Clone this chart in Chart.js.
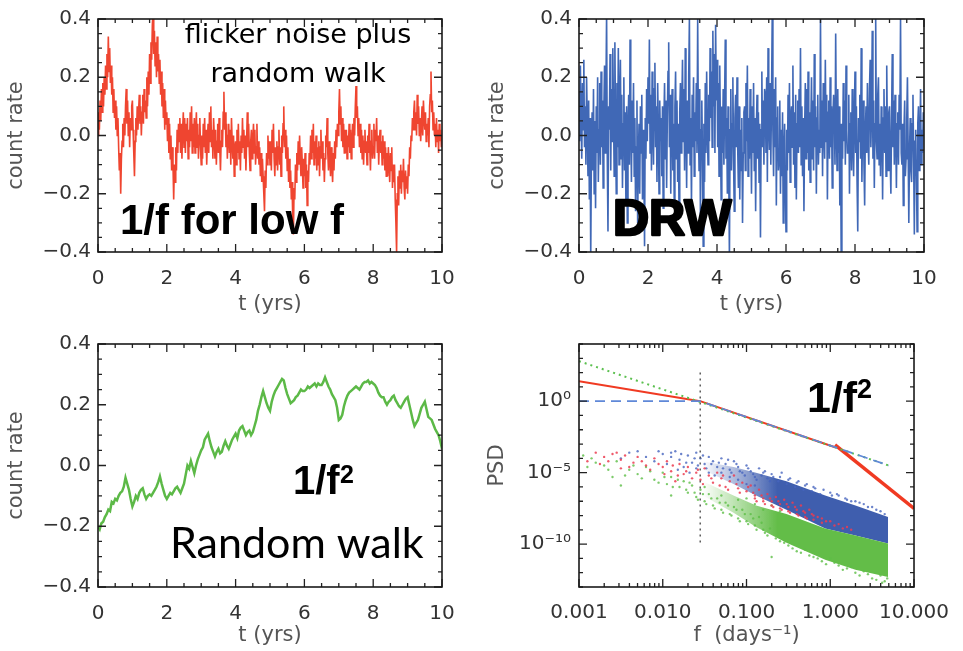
<!DOCTYPE html>
<html><head><meta charset="utf-8">
<script src="https://cdn.jsdelivr.net/npm/chart.js@4/dist/chart.umd.min.js"></script>
<style>
html,body{margin:0;padding:0;background:#fff;}
#wrap{position:relative;width:963px;height:651px;overflow:hidden;background:#fff;}
canvas{position:absolute;}
</style></head><body>
<div id="wrap">
<canvas id="cFlicker" width="481" height="320" style="left:0;top:0;width:481px;height:320px"></canvas>
<canvas id="cDrw" width="482" height="320" style="left:481px;top:0;width:482px;height:320px"></canvas>
<canvas id="cRw" width="481" height="331" style="left:0;top:320px;width:481px;height:331px"></canvas>
<canvas id="cPsd" width="482" height="331" style="left:481px;top:320px;width:482px;height:331px"></canvas>
</div>
<script>
// ---------------- data ----------------
const T_STEP_FAST = 0.02;   // sampling step (yrs) of the two noisy light curves
const T_STEP_RW = 0.05;     // sampling step (yrs) of the random-walk light curve

const FLICKER_RATE = [
0.00,0.08,0.02,0.12,0.05,0.16,0.08,0.18,0.10,0.20,
0.14,0.24,0.16,0.28,0.20,0.34,0.22,0.30,0.18,0.24,
0.14,0.20,0.08,0.16,0.06,0.12,0.02,0.10,0.00,0.06,
-0.04,-0.12,-0.06,-0.20,-0.08,-0.02,0.04,-0.04,0.06,0.00,
0.10,0.16,0.04,0.12,0.00,0.08,-0.04,0.06,0.02,0.10,
0.12,0.02,-0.06,-0.14,-0.02,0.06,0.00,0.10,0.02,0.08,
0.14,0.04,0.10,0.00,0.08,0.14,0.04,0.16,0.08,0.12,
0.06,0.20,0.10,0.22,0.14,0.28,0.18,0.32,0.26,0.38,
0.42,0.28,0.36,0.24,0.32,0.20,0.34,0.22,0.28,0.18,
0.26,0.14,0.22,0.10,0.18,0.06,0.16,0.02,0.12,0.04,
0.08,-0.02,0.06,-0.06,0.04,-0.08,0.00,-0.12,-0.04,-0.10,
-0.22,-0.10,-0.16,-0.04,-0.12,0.02,-0.06,0.04,-0.02,0.06,
-0.06,0.04,-0.08,0.02,0.08,-0.04,0.06,-0.06,0.04,-0.02,
0.06,-0.08,0.02,-0.04,0.08,-0.02,0.10,-0.06,0.04,-0.04,
0.06,-0.06,0.02,0.08,-0.04,0.04,-0.08,0.00,0.06,-0.04,
-0.10,0.00,-0.08,0.04,-0.04,0.06,-0.06,0.02,-0.10,-0.02,
0.04,-0.06,0.08,-0.02,0.10,-0.04,0.02,-0.08,0.06,0.00,
-0.08,0.02,-0.10,-0.02,0.04,-0.06,0.06,-0.04,-0.12,-0.02,
0.02,-0.04,0.08,0.15,0.02,0.08,-0.04,0.04,-0.08,0.00,
0.04,-0.06,0.02,-0.10,0.06,-0.02,-0.08,0.00,-0.14,-0.04,
-0.02,-0.10,0.02,-0.06,0.04,-0.08,-0.02,-0.12,0.00,-0.06,
0.06,-0.04,0.02,-0.08,0.00,-0.12,-0.02,0.08,-0.04,0.04,
-0.06,-0.12,-0.02,0.02,-0.08,-0.02,0.04,-0.06,0.02,-0.10,
-0.04,0.04,-0.08,-0.02,-0.10,-0.04,-0.14,-0.06,-0.16,-0.08,
-0.14,-0.20,-0.26,-0.12,-0.18,-0.06,-0.10,0.00,-0.08,-0.02,
-0.10,-0.02,-0.12,0.02,-0.06,0.04,-0.08,-0.14,-0.04,-0.10,
-0.02,-0.12,-0.04,0.02,-0.10,-0.04,-0.14,0.00,-0.06,0.04,
0.10,-0.04,0.02,-0.08,0.00,-0.12,-0.04,-0.16,-0.08,-0.18,
-0.12,-0.22,-0.16,-0.28,-0.34,-0.18,-0.22,-0.10,-0.16,-0.06,
-0.12,-0.02,-0.10,0.00,-0.08,-0.14,-0.04,-0.10,-0.18,-0.08,
-0.14,-0.06,-0.18,-0.10,-0.24,-0.12,-0.16,-0.06,-0.10,0.00,
-0.08,0.02,-0.06,0.04,-0.10,-0.02,-0.08,0.00,-0.12,-0.04,
-0.10,-0.02,-0.14,-0.04,0.02,-0.08,-0.02,-0.12,-0.06,-0.16,
-0.08,0.00,-0.04,0.06,-0.06,-0.12,-0.02,-0.08,-0.14,-0.04,
-0.10,-0.16,-0.06,-0.12,-0.02,-0.08,0.02,-0.04,0.04,0.00,
0.08,0.16,0.04,0.10,-0.02,0.06,-0.04,0.04,-0.06,0.02,
-0.06,0.02,-0.08,0.00,-0.04,0.04,-0.06,0.02,-0.08,-0.02,
0.04,-0.04,0.06,0.00,0.10,0.17,0.06,0.10,0.00,0.06,
-0.04,0.04,-0.06,0.02,-0.08,0.00,-0.10,-0.02,0.02,-0.06,
-0.02,-0.10,0.00,-0.06,0.04,-0.04,-0.12,-0.02,0.02,-0.08,
-0.04,0.04,-0.08,0.02,-0.02,0.06,-0.06,0.00,-0.10,-0.02,
0.02,-0.06,-0.02,-0.10,0.00,-0.08,-0.02,-0.12,-0.04,-0.14,
-0.06,-0.14,-0.04,-0.10,-0.16,-0.06,-0.12,-0.04,-0.18,-0.10,
-0.16,-0.10,-0.22,-0.30,-0.40,-0.20,-0.14,-0.24,-0.12,-0.18,
-0.10,-0.20,-0.12,-0.16,-0.08,-0.18,-0.22,-0.12,-0.18,-0.14,
-0.20,-0.10,-0.14,-0.04,-0.08,0.00,-0.02,0.06,0.02,0.08,
0.12,0.02,0.08,0.00,0.14,0.04,0.10,0.00,0.06,-0.02,
0.04,0.10,0.00,0.12,0.06,0.02,0.08,-0.02,0.04,0.00,
0.06,-0.04,0.10,0.14,0.22,0.08,0.12,0.02,0.08,0.00,
0.04,-0.04,0.06,-0.02,0.02,-0.06,0.04,-0.02,0.02,-0.04,
0.00
];

const DRW_RATE = [
0.15,-0.02,0.24,0.05,-0.08,0.18,0.02,0.26,-0.04,0.10,
-0.10,0.20,0.04,-0.14,0.12,-0.22,0.06,-0.42,-0.05,0.08,
-0.12,0.16,-0.20,0.05,-0.25,0.10,-0.06,0.20,-0.16,0.02,
0.18,-0.10,0.22,-0.04,0.12,-0.18,0.08,0.24,-0.06,0.14,
0.42,-0.08,-0.33,0.10,0.02,0.28,-0.12,0.16,-0.02,0.30,
0.08,-0.14,0.32,0.02,-0.20,0.18,-0.04,0.30,-0.10,0.12,
0.26,-0.08,0.14,-0.18,0.04,0.20,-0.12,0.08,-0.24,0.10,
-0.30,0.02,0.14,-0.10,0.33,0.04,-0.16,0.12,-0.06,0.18,
-0.14,0.06,-0.26,-0.04,0.12,-0.30,-0.08,0.04,-0.20,0.10,
-0.06,0.14,-0.22,0.02,-0.12,-0.38,0.06,-0.08,0.16,-0.02,
0.20,0.04,0.33,-0.06,0.14,-0.12,0.22,0.02,-0.10,0.16,
0.25,-0.04,0.10,-0.16,0.18,0.02,-0.20,0.12,-0.02,0.06,
-0.14,0.10,-0.25,0.04,0.18,-0.08,0.12,-0.18,0.06,0.22,
0.32,-0.04,0.14,-0.20,0.06,0.16,-0.12,0.04,-0.22,0.10,
0.22,-0.08,0.12,-0.16,0.04,-0.28,0.08,0.18,-0.06,0.10,
0.26,-0.02,0.16,-0.12,0.30,0.02,-0.18,0.12,-0.06,0.20,
0.40,-0.10,0.06,-0.24,0.14,-0.04,0.20,-0.14,0.08,-0.02,
0.18,-0.06,0.40,0.04,-0.12,0.16,-0.30,0.02,0.12,-0.08,
-0.38,0.04,-0.16,0.18,-0.06,0.22,0.02,-0.10,0.14,-0.02,
0.30,0.06,0.22,-0.04,0.36,0.10,0.28,-0.06,0.38,0.12,
0.26,-0.04,0.18,-0.14,0.24,0.02,-0.22,0.10,-0.06,0.16,
-0.10,0.12,0.33,-0.08,0.06,-0.20,0.10,-0.12,-0.42,0.02,
0.16,-0.12,0.04,0.20,-0.08,-0.26,0.06,0.14,-0.04,0.20,
-0.04,-0.18,0.10,-0.22,0.02,-0.12,0.06,-0.30,-0.06,0.08,
0.10,-0.12,0.18,-0.02,0.24,-0.14,0.06,-0.08,0.16,0.02,
-0.20,0.10,-0.06,0.18,-0.12,0.06,-0.26,0.02,0.14,-0.08,
0.08,-0.16,0.04,-0.35,0.02,0.22,-0.04,0.12,-0.10,0.16,
0.14,-0.06,0.20,-0.16,0.30,0.04,-0.05,0.18,-0.10,0.12,
0.40,0.02,-0.14,0.16,-0.04,0.20,-0.24,0.06,0.10,-0.12,
-0.08,0.12,-0.20,0.02,-0.14,0.08,-0.30,-0.06,0.04,-0.18,
-0.33,0.02,-0.12,0.14,-0.06,0.18,-0.16,0.06,0.10,-0.04,
0.24,-0.10,0.08,-0.18,0.14,-0.22,0.04,0.12,-0.06,0.16,
-0.04,0.30,-0.10,0.10,-0.14,0.06,-0.26,0.02,0.18,-0.08,
0.16,-0.06,0.22,-0.12,0.08,-0.16,0.04,0.20,-0.08,0.12,
-0.12,0.28,-0.04,0.10,-0.20,0.06,0.14,-0.10,0.02,-0.06,
0.40,-0.04,0.12,-0.14,0.18,0.02,-0.08,0.26,-0.02,0.14,
-0.22,0.08,0.12,-0.08,0.20,-0.04,0.10,-0.18,0.06,0.14,
0.06,-0.10,0.35,0.02,-0.12,0.16,-0.06,0.10,-0.24,0.04,
-0.42,0.04,-0.08,0.18,-0.02,0.12,-0.10,0.24,0.02,-0.06,
-0.06,0.14,-0.20,0.04,0.08,-0.12,0.16,-0.02,-0.14,0.06,
0.22,-0.06,0.10,-0.16,-0.33,0.06,-0.02,0.14,-0.08,0.30,
-0.16,0.04,0.12,-0.10,-0.24,0.02,0.10,-0.06,0.18,-0.02,
-0.10,0.16,0.26,-0.04,0.08,0.36,-0.08,0.12,-0.18,0.04,
0.40,-0.02,-0.08,0.14,0.20,-0.10,0.04,-0.14,0.10,0.06,
-0.22,0.06,0.16,-0.06,0.10,-0.14,0.24,-0.02,-0.12,0.08,
0.10,-0.08,-0.20,0.06,0.28,-0.04,0.12,-0.10,0.14,0.02,
-0.18,0.04,0.08,-0.10,0.14,0.02,0.40,-0.06,-0.10,0.04,
-0.24,0.02,0.12,-0.14,-0.08,0.06,0.20,-0.04,-0.30,-0.06,
0.06,-0.12,-0.16,0.04,0.14,-0.08,-0.34,-0.02,0.02,-0.14,
-0.33,0.04,0.10,-0.12,-0.04,0.16,-0.10,0.02,-0.06,0.08,
0.05
];

const RW_RATE = [
-0.20,-0.21,-0.19,-0.185,-0.17,-0.16,-0.145,-0.15,-0.12,-0.125,-0.11,-0.115,-0.10,-0.09,-0.085,-0.07,-0.04,-0.06,-0.08,-0.11,
-0.135,-0.12,-0.10,-0.11,-0.09,-0.08,-0.075,-0.095,-0.11,-0.10,-0.095,-0.10,-0.09,-0.08,-0.07,-0.055,-0.036,-0.06,-0.08,-0.10,
-0.11,-0.10,-0.09,-0.095,-0.085,-0.075,-0.07,-0.08,-0.09,-0.075,-0.06,-0.03,0.0,-0.01,0.015,-0.005,-0.025,0.0,0.02,0.035,
0.05,0.06,0.085,0.095,0.105,0.08,0.06,0.045,0.03,0.045,0.055,0.04,0.045,0.065,0.08,0.065,0.055,0.07,0.085,0.095,
0.105,0.09,0.115,0.125,0.13,0.115,0.10,0.11,0.115,0.10,0.11,0.13,0.15,0.18,0.20,0.225,0.245,0.225,0.205,0.19,
0.18,0.21,0.23,0.245,0.255,0.265,0.275,0.285,0.28,0.255,0.235,0.22,0.205,0.21,0.215,0.225,0.23,0.24,0.25,0.245,
0.245,0.25,0.26,0.255,0.26,0.265,0.27,0.26,0.27,0.265,0.265,0.275,0.29,0.275,0.26,0.25,0.235,0.225,0.215,0.19,
0.15,0.155,0.167,0.195,0.215,0.23,0.24,0.245,0.25,0.255,0.26,0.255,0.25,0.26,0.27,0.275,0.275,0.28,0.27,0.275,
0.27,0.265,0.255,0.24,0.23,0.225,0.225,0.21,0.20,0.21,0.215,0.225,0.23,0.215,0.205,0.195,0.19,0.2,0.21,0.22,
0.225,0.2,0.175,0.15,0.13,0.14,0.15,0.17,0.19,0.2,0.21,0.185,0.16,0.155,0.15,0.135,0.12,0.11,0.10,0.08,
0.055
];

const T_TICKS = [0,2,4,6,8,10];
const T_MINOR_STEP = 0.5;
const RATE_TICKS = [-0.4,-0.2,0,0.2,0.4];
const RATE_LABELS = ['\u22120.4','\u22120.2','0.0','0.2','0.4'];
const RATE_MINOR_STEP = 0.05;

const PSD_F_TICKS = [0.001,0.01,0.1,1,10];
const PSD_F_LABELS = ['0.001','0.010','0.100','1.000','10.000'];
const PSD_P_TICKS = [1,1e-5,1e-10];
const PSD_P_LABELS = ['10\u2070','10\u207B\u2075','10\u207B\u00B9\u2070'];

// model PSD lines: [frequency, log10 PSD]
const MODEL_DRW = [[0.001,0],[0.028,0],[5,-4.5]];
const MODEL_RW = [[0.001,2.8],[5,-4.5]];
const MODEL_FLICKER_LOW = [[0.001,1.4],[0.028,0],[1.14,-3.22]];
const MODEL_FLICKER_HIGH = [[1.14,-3.05],[10,-7.5]];
const BREAK_LINE = [[0.028,2],[0.028,-10]];

// dense periodogram clouds: frequency grid and log10 PSD envelopes
const BAND_F = [0.03,0.07,0.13,0.3,0.87,2,4.9];
const BLUE_UP = [-4.2,-4.6,-5.0,-5.6,-6.6,-7.3,-8.1];
const BLUE_LO = [-4.8,-5.8,-6.6,-7.6,-8.9,-9.4,-9.95];
const GREEN_UP = [-5.6,-6.6,-7.3,-7.9,-8.9,-9.4,-9.95];
const GREEN_LO = [-6.6,-7.8,-8.8,-9.9,-11.1,-11.8,-12.3];

// sparse periodogram points: [log10 f, log10 PSD]
const BLUE_PTS = [[-2.5,-4.0],[-2.3,-3.5],[-2.0,-3.7],[-1.9,-3.9],[-1.85,-3.5],[-1.8,-4.1],[-1.75,-4.6],[-1.7,-3.8],
[-1.65,-4.3],[-1.6,-3.6],[-1.6,-4.7],[-1.55,-4.0],[-1.5,-4.4],[-1.45,-3.9],[-1.45,-5.0],[-1.4,-4.2],[-1.35,-4.6],
[-1.3,-4.0],[-1.3,-5.0],[-1.25,-4.4],[-1.2,-4.8],[-1.2,-5.3],[-1.15,-4.2],[-1.1,-4.6],[-1.1,-5.5],[-1.05,-5.0],
[-1.0,-4.5],[-1.0,-5.8],[-0.95,-4.9],[-0.9,-5.3],[-0.9,-5.9],[-0.85,-4.7],[-0.8,-5.0],[-0.75,-5.4],[-0.6,-5.3],
[-0.4,-5.7],[-0.2,-6.0],[0.0,-6.4],[0.2,-6.9],[0.4,-7.2],[0.6,-7.7],[-0.7,-5.1],[-0.5,-5.5],[-0.3,-5.9],[0.1,-6.6],[0.3,-7.0],[0.5,-7.4],
[-2.4,-3.6],[-2.2,-3.9],[-2.1,-4.2],[-2.05,-3.5],[-1.95,-4.4],[-1.9,-3.6],[-1.82,-4.8],[-1.78,-3.7],[-1.72,-4.3],[-1.68,-5.0],
[-1.62,-4.0],[-1.58,-4.5],[-1.52,-3.8],[-1.48,-4.7],[-1.42,-4.4],[-1.38,-5.2],[-1.33,-4.3],[-1.28,-4.7],[-1.22,-4.1],[-1.18,-5.0],
[-1.12,-4.4],[-1.08,-4.9],[-1.02,-5.2],[-0.98,-4.7],[-0.92,-5.1],[-0.88,-5.5],[-0.82,-5.2],[-0.78,-4.9],[-0.72,-5.6],[-0.68,-5.3],
[-0.62,-5.6],[-0.58,-5.0],[-0.52,-5.8],[-0.48,-5.4],[-0.42,-6.0],[-0.38,-5.6],[-0.32,-6.2],[-0.28,-5.8],[-0.22,-6.3],[-0.18,-6.1],
[-0.12,-6.5],[-0.08,-6.2],[0.02,-6.6],[0.08,-6.5],[0.18,-6.8],[0.25,-7.0],[0.35,-7.1],[0.45,-7.4],[0.55,-7.6],[0.65,-7.9]];
const RED_PTS = [[-2.9,-4.2],[-2.8,-3.6],[-2.7,-3.9],[-2.6,-3.7],[-2.5,-4.1],[-2.45,-3.8],[-2.4,-4.6],[-2.35,-4.3],
[-2.3,-3.9],[-2.2,-4.5],[-2.1,-4.0],[-2.0,-4.6],[-1.95,-4.2],[-1.9,-4.9],[-1.85,-5.6],[-1.8,-4.4],[-1.75,-5.1],
[-1.7,-4.6],[-1.6,-5.0],[-1.55,-5.5],[-1.5,-4.7],[-1.45,-5.2],[-1.4,-5.7],[-1.35,-5.0],[-1.3,-5.4],[-1.25,-6.0],
[-1.2,-5.6],[-1.15,-5.2],[-1.1,-6.1],[-1.05,-5.7],[-1.0,-6.3],[-0.95,-5.9],[-0.9,-6.6],[-0.85,-6.2],[-0.8,-6.8],
[-0.75,-6.5],[-0.7,-7.0],[-0.65,-6.7],[-0.6,-7.2],[-0.55,-6.9],[-0.5,-7.4],[-0.45,-7.1],[-0.4,-7.6],[-0.35,-7.3],
[-0.3,-7.8],[-0.25,-7.6],[-0.2,-8.0],[-0.1,-8.2],[0.0,-8.4],[0.1,-8.6],[-0.6,-7.5],[-0.5,-7.7],[-0.4,-7.9],
[-0.3,-8.1],[-0.2,-8.3],[-0.1,-8.5],[0.05,-8.7],[0.15,-8.9],[-0.7,-7.3],[-0.8,-7.0],[-0.9,-6.8],
[-2.75,-4.4],[-2.65,-4.2],[-2.55,-3.6],[-2.5,-4.7],[-2.25,-4.2],[-2.15,-4.8],[-2.05,-4.4],[-1.98,-5.1],[-1.88,-4.5],[-1.82,-5.2],
[-1.72,-4.9],[-1.65,-5.4],[-1.58,-4.8],[-1.52,-5.8],[-1.42,-5.4],[-1.32,-5.9],[-1.28,-5.2],[-1.22,-6.2],[-1.12,-5.8],[-1.08,-6.4],
[-0.98,-6.0],[-0.92,-6.4],[-0.88,-7.0],[-0.82,-6.6],[-0.78,-7.2],[-0.72,-6.8],[-0.68,-7.4],[-0.62,-7.0],[-0.58,-7.6],[-0.52,-7.2],
[-0.48,-7.8],[-0.42,-7.4],[-0.38,-8.0],[-0.32,-7.7],[-0.28,-8.2],[-0.22,-7.9],[-0.15,-8.1],[-0.05,-8.4],[0.2,-8.8],[0.25,-9.0]];
const GREEN_PTS = [[-2.95,-3.8],[-2.85,-4.0],[-2.7,-4.5],[-2.6,-5.3],[-2.55,-4.2],[-2.5,-5.9],[-2.4,-4.8],[-2.3,-5.1],
[-2.2,-4.6],[-2.1,-5.5],[-2.0,-5.0],[-1.95,-5.8],[-1.9,-5.3],[-1.9,-6.6],[-1.8,-6.0],[-1.75,-5.6],[-1.7,-6.4],
[-1.65,-5.9],[-1.6,-6.7],[-1.55,-6.2],[-1.5,-7.0],[-1.5,-6.0],[-1.45,-6.5],[-1.4,-7.3],[-1.35,-6.8],[-1.3,-7.6],
[-1.3,-6.6],[-1.25,-7.1],[-1.2,-7.9],[-1.15,-7.4],[-1.1,-8.2],[-1.1,-6.9],[-1.05,-7.6],[-1.0,-8.4],[-0.95,-7.9],
[-0.9,-8.7],[-0.85,-8.1],[-0.8,-9.0],[-0.75,-9.4],[-0.7,-10.9],[-0.6,-9.8],[-0.5,-10.1],[-0.4,-10.5],[-0.3,-10.4],
[-0.2,-10.9],[-0.1,-11.2],[0.0,-11.0],[0.1,-11.5],[0.2,-11.7],[0.3,-12.0],[0.4,-11.9],[0.5,-12.4],[0.6,-12.2],[0.65,-12.6],
[-2.9,-4.6],[-2.8,-4.3],[-2.65,-4.8],[-2.45,-5.2],[-2.35,-4.5],[-2.25,-5.4],[-2.15,-4.9],[-2.05,-5.7],[-1.98,-5.3],[-1.88,-6.0],
[-1.82,-5.5],[-1.72,-6.2],[-1.68,-5.7],[-1.62,-6.4],[-1.58,-6.9],[-1.52,-6.5],[-1.48,-7.2],[-1.42,-6.8],[-1.38,-7.5],[-1.32,-7.1],
[-1.28,-7.8],[-1.22,-7.3],[-1.18,-8.0],[-1.12,-7.6],[-1.08,-8.4],[-1.02,-7.9],[-0.98,-8.6],[-0.92,-8.2],[-0.88,-9.0],[-0.82,-8.5],
[-0.78,-9.2],[-0.72,-8.9],[-0.65,-9.6],[-0.55,-9.9],[-0.45,-10.3],[-0.35,-10.6],[-0.25,-10.8],[-0.15,-11.0],[-0.05,-11.4],[0.05,-11.3],
[0.15,-11.8],[0.25,-11.6],[0.35,-12.2],[0.45,-12.1],[0.55,-12.5],[0.62,-12.7],[0.68,-12.4],[-1.0,-6.8],[-0.9,-7.2],[-0.8,-7.6],[-0.7,-7.3],[-0.6,-7.7]];

// ---------------- plugins ----------------
const idlFrame = {
  id:'idlFrame',
  afterDatasetsDraw(chart, args, o){
    if(!o || !o.on) return;
    const ctx = chart.ctx, a = chart.chartArea, x = chart.scales.x, y = chart.scales.y;
    const xs = (v)=>x.getPixelForValue(v), ys = (v)=>y.getPixelForValue(v);
    const xMinor = [], yMinor = [];
    if(o.xLog){ for(let d=-3; d<1; d++) for(let m=2;m<10;m++) xMinor.push(m*Math.pow(10,d)); }
    else { for(let k=0; k<=Math.round((x.max-x.min)/o.xMinorStep); k++) xMinor.push(x.min + k*o.xMinorStep); }
    if(o.yLog){ for(let d=-13; d<=4; d++) yMinor.push(Math.pow(10,d)); }
    else { for(let k=0; k<=Math.round((y.max-y.min)/o.yMinorStep); k++) yMinor.push(y.min + k*o.yMinorStep); }
    const xMaj = Array.from(o.xMajor), yMaj = Array.from(o.yMajor);
    ctx.save();
    ctx.strokeStyle='#222'; ctx.lineWidth=1.3;
    ctx.beginPath();
    const vt=(p,len)=>{ if(!isFinite(p)||p<a.left-0.5||p>a.right+0.5) return; ctx.moveTo(p,a.bottom); ctx.lineTo(p,a.bottom-len); ctx.moveTo(p,a.top); ctx.lineTo(p,a.top+len); };
    const ht=(p,len)=>{ if(!isFinite(p)||p<a.top-0.5||p>a.bottom+0.5) return; ctx.moveTo(a.left,p); ctx.lineTo(a.left+len,p); ctx.moveTo(a.right,p); ctx.lineTo(a.right-len,p); };
    xMinor.forEach(v=>vt(xs(v),4));
    yMinor.forEach(v=>ht(ys(v),4));
    xMaj.forEach(v=>vt(xs(v),8));
    yMaj.forEach(v=>ht(ys(v),8));
    ctx.stroke();
    ctx.lineWidth=1.6; ctx.strokeStyle='#1a1a1a';
    ctx.strokeRect(a.left,a.top,a.right-a.left,a.bottom-a.top);
    ctx.restore();
  }
};
const annot = {
  id:'annot',
  afterDraw(chart, args, o){
    if(!o || !o.items) return;
    const ctx = chart.ctx;
    Array.from(o.items).forEach(it=>{
      ctx.save();
      ctx.font = it.font; ctx.fillStyle = it.color || '#000';
      ctx.textAlign = it.align || 'left'; ctx.textBaseline = 'alphabetic';
      if(it.stroke){ ctx.lineWidth = it.stroke; ctx.strokeStyle = ctx.fillStyle; ctx.lineJoin='round'; ctx.strokeText(it.text, it.x, it.y); }
      ctx.fillText(it.text, it.x, it.y);
      ctx.restore();
    });
  }
};
Chart.register(idlFrame, annot);

const TICK_FONT = {family:'DejaVu Sans', size:20};
const TITLE_FONT = {family:'DejaVu Sans', size:21};
const TICK_COLOR = '#333';
const TITLE_COLOR = '#555';

function labelFor(list, labels){
  return (v)=>{ const i = list.findIndex(t=>Math.abs(t-v) < Math.abs(t)*1e-6 + 1e-9); return i>=0 ? labels[i] : ''; };
}

function timeChart(id, values, step, color, width, items, padTop, xH){
  const pts = values.map((v,i)=>({x: Math.round(i*step*1000)/1000, y: v}));
  return new Chart(document.getElementById(id), {
    type:'line',
    data:{datasets:[{data:pts, borderColor:color, borderWidth:width, pointRadius:0, tension:0, fill:false}]},
    options:{
      responsive:false, animation:false, events:[],
      layout:{padding:{top:padTop, right:39, left:0, bottom:0}},
      plugins:{legend:{display:false}, tooltip:{enabled:false},
        idlFrame:{on:true, xMajor:T_TICKS, yMajor:RATE_TICKS, xMinorStep:T_MINOR_STEP, yMinorStep:RATE_MINOR_STEP},
        annot:{items:items}},
      scales:{
        x:{type:'linear', min:0, max:10,
          afterBuildTicks:(s)=>{ s.ticks = T_TICKS.map(v=>({value:v})); },
          ticks:{font:TICK_FONT, color:TICK_COLOR, padding:15, maxRotation:0, callback:labelFor(T_TICKS, T_TICKS.map(String))},
          grid:{display:false, drawTicks:false}, border:{display:false},
          title:{display:true, text:'t (yrs)', font:TITLE_FONT, color:TITLE_COLOR, padding:{top:0,bottom:3}},
          afterFit:(s)=>{ s.height = xH; }},
        y:{type:'linear', min:-0.4, max:0.4,
          afterBuildTicks:(s)=>{ s.ticks = RATE_TICKS.map(v=>({value:v})); },
          ticks:{font:TICK_FONT, color:TICK_COLOR, padding:7, callback:labelFor(RATE_TICKS, RATE_LABELS)},
          grid:{display:false, drawTicks:false}, border:{display:false},
          title:{display:true, text:'count rate', font:TITLE_FONT, color:TITLE_COLOR, padding:{top:4,bottom:0}},
          afterFit:(s)=>{ s.width = 98; }}
      }
    }
  });
}

timeChart('cFlicker', FLICKER_RATE, T_STEP_FAST, '#ef4530', 1.6, [
  {text:'flicker noise plus', x:298, y:43, align:'center', font:'27px "DejaVu Sans"'},
  {text:'random walk', x:298, y:82, align:'center', font:'27px "DejaVu Sans"'},
  {text:'1/f for low f', x:120, y:234, font:'bold 42px "Liberation Sans"'}
], 9, 68);

timeChart('cDrw', DRW_RATE, T_STEP_FAST, '#4068b6', 1.6, [
  {text:'DRW', x:132, y:235, font:'bold 50px "Liberation Sans"', stroke:2.5}
], 9, 68);

timeChart('cRw', RW_RATE, T_STEP_RW, '#5cb947', 2.5, [
  {text:'1/f', x:293, y:174, font:'bold 40px "Liberation Sans"'},
  {text:'2', x:340, y:163, font:'bold 25px "Liberation Sans"'},
  {text:'Random walk', x:170, y:238, font:'43px Lato'}
], 24, 64);

// ---------------- PSD panel ----------------
const toXY = (arr)=>arr.map(p=>({x:p[0], y:Math.pow(10,p[1])}));
const logPts = (arr)=>arr.map(p=>({x:Math.pow(10,p[0]), y:Math.pow(10,p[1])}));
const band = (vals)=>BAND_F.map((f,i)=>({x:f, y:Math.pow(10,vals[i])}));
const lineDs = (arr, color, w, dash)=>({type:'scatter', data:toXY(arr), showLine:true, borderColor:color, borderWidth:w, borderDash:dash||[], pointRadius:0, fill:false, tension:0});
function fadeFill(rgb){
  return (c)=>{
    const ch = c.chart;
    if(!ch.chartArea || !ch.scales.x) return 'rgb('+rgb+')';
    const x = ch.scales.x;
    const g = ch.ctx.createLinearGradient(x.getPixelForValue(BAND_F[0]),0,x.getPixelForValue(BAND_F[2]*1.8),0);
    g.addColorStop(0,'rgba('+rgb+',0)');
    g.addColorStop(0.55,'rgba('+rgb+',0.55)');
    g.addColorStop(1,'rgba('+rgb+',1)');
    return g;
  };
}

new Chart(document.getElementById('cPsd'), {
  type:'scatter',
  data:{datasets:[
    lineDs(MODEL_DRW, '#5f88d8', 1.7, [10,6]),
    lineDs(MODEL_RW, '#5cc050', 2, [2,4]),
    lineDs(MODEL_FLICKER_HIGH, '#f03a22', 3.5),
    lineDs(MODEL_FLICKER_LOW, '#f03a22', 2),
    lineDs(BREAK_LINE, '#444', 1.3, [2,4]),
    {data:logPts(RED_PTS), pointRadius:1.2, pointBorderWidth:0, backgroundColor:'rgba(236,60,80,0.85)', showLine:false},
    {data:logPts(GREEN_PTS), pointRadius:1.2, pointBorderWidth:0, backgroundColor:'rgba(92,190,70,0.8)', showLine:false},
    {data:band(GREEN_UP), showLine:true, borderWidth:0, pointRadius:0, fill:'+1', backgroundColor:fadeFill('99,189,72'), borderColor:'rgba(0,0,0,0)'},
    {data:band(GREEN_LO), showLine:true, borderWidth:0, pointRadius:0, fill:false, borderColor:'rgba(0,0,0,0)'},
    {data:logPts(BLUE_PTS), pointRadius:1.2, pointBorderWidth:0, backgroundColor:'rgba(70,100,190,0.8)', showLine:false},
    {data:band(BLUE_UP), showLine:true, borderWidth:0, pointRadius:0, fill:'+1', backgroundColor:fadeFill('63,94,174'), borderColor:'rgba(0,0,0,0)'},
    {data:band(BLUE_LO), showLine:true, borderWidth:0, pointRadius:0, fill:false, borderColor:'rgba(0,0,0,0)'}
  ]},
  options:{
    responsive:false, animation:false, events:[],
    layout:{padding:{top:24, right:39, left:0, bottom:0}},
    plugins:{legend:{display:false}, tooltip:{enabled:false},
      idlFrame:{on:true, xLog:true, yLog:true, xMajor:PSD_F_TICKS, yMajor:PSD_P_TICKS},
      annot:{items:[
        {text:'1/f', x:326, y:92, font:'bold 43px "Liberation Sans"'},
        {text:'2', x:376, y:78, font:'bold 27px "Liberation Sans"'}
      ]}},
    scales:{
      x:{type:'logarithmic', min:0.001, max:10,
        afterBuildTicks:(s)=>{ s.ticks = PSD_F_TICKS.map(v=>({value:v})); },
        ticks:{font:TICK_FONT, color:TICK_COLOR, padding:14, maxRotation:0, autoSkip:false, callback:labelFor(PSD_F_TICKS, PSD_F_LABELS)},
        grid:{display:false, drawTicks:false}, border:{display:false},
        title:{display:true, text:'f  (days\u207B\u00B9)', font:TITLE_FONT, color:TITLE_COLOR, padding:{top:0,bottom:3}},
        afterFit:(s)=>{ s.height = 64; }},
      y:{type:'logarithmic', min:1e-13, max:1e4,
        afterBuildTicks:(s)=>{ s.ticks = PSD_P_TICKS.map(v=>({value:v})); },
        ticks:{font:TICK_FONT, color:TICK_COLOR, padding:8, autoSkip:false, callback:labelFor(PSD_P_TICKS, PSD_P_LABELS)},
        grid:{display:false, drawTicks:false}, border:{display:false},
        title:{display:true, text:'PSD', font:TITLE_FONT, color:TITLE_COLOR, padding:{top:4,bottom:0}},
        afterFit:(s)=>{ s.width = 98; }}
    }
  }
});
</script>
</body></html>
